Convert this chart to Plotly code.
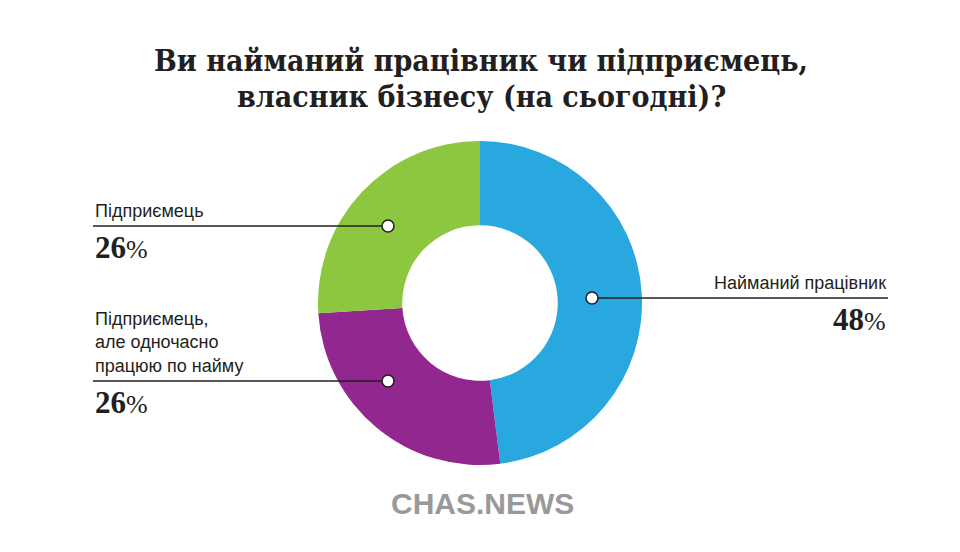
import plotly.graph_objects as go

categories = ["Найманий працівник", "Підприємець, але одночасно працюю по найму", "Підприємець"]
values = [48, 26, 26]
colors = ["#29A8E0", "#92278F", "#8DC63F"]
title_lines = ["Ви найманий працівник чи підприємець,", "власник бізнесу (на сьогодні)?"]

W, H = 960, 552
def px(x): return x / W
def py(y): return 1 - y / H

cx, cy, R = 480, 303, 162

fig = go.Figure(go.Pie(
    labels=categories, values=values, sort=False, direction="clockwise", rotation=0,
    hole=0.48, marker=dict(colors=colors, line=dict(width=0)),
    textinfo="none", hoverinfo="label+percent", showlegend=False,
    domain=dict(x=[px(cx - R), px(cx + R)], y=[py(cy + R), py(cy - R)]),
))

shapes = []
annotations = []

# title
for i, (line, yy) in enumerate(zip(title_lines, [60, 96])):
    annotations.append(dict(x=px(481), y=py(yy), xref="paper", yref="paper", xanchor="center", yanchor="middle",
                            text=line, showarrow=False, align="center",
                            font=dict(family="DejaVu Serif Condensed, DejaVu Serif", size=30, color="#231f20", weight="bold")))

label_font = dict(family="Liberation Sans, Arial", size=18, color="#231f20")
pct_font = dict(family="Liberation Serif, serif", size=31, color="#231f20")

# (line x0, x1, y, circle x, label text, label anchor, pct)
callouts = [
    (592, 888, 298, 592, categories[0], "right", values[0]),
    (93, 388, 381, 388, "Підприємець,<br>але одночасно<br>працюю по найму", "left", values[1]),
    (93, 388, 226, 388, categories[2], "left", values[2]),
]
for x0, x1, y, cxp, text, side, v in callouts:
    shapes.append(dict(type="line", xref="paper", yref="paper", x0=px(x0), x1=px(x1), y0=py(y), y1=py(y),
                       line=dict(color="#231f20", width=1.5)))
    r = 6
    shapes.append(dict(type="circle", xref="paper", yref="paper", x0=px(cxp - r), x1=px(cxp + r),
                       y0=py(y + r), y1=py(y - r), fillcolor="white", line=dict(color="#231f20", width=1.5)))
    tx = x1 if side == "right" else x0
    annotations.append(dict(x=px(tx), y=py(y - 3), xref="paper", yref="paper", xanchor=side, yanchor="bottom",
                            text=text, showarrow=False, align=side, font=label_font))
    annotations.append(dict(x=px(tx), y=py(y + 2), xref="paper", yref="paper", xanchor=side, yanchor="top",
                            text=f"<b>{v}</b><span style='font-size:26px'>%</span>", showarrow=False, align=side,
                            font=pct_font))

# logo
annotations.append(dict(x=px(482), y=py(503), xref="paper", yref="paper", xanchor="center", yanchor="middle",
                        text="<b>CHAS.NEWS</b>", showarrow=False,
                        font=dict(family="Liberation Sans Narrow, Liberation Sans", size=30, color="#999999")))

fig.update_layout(width=W, height=H, margin=dict(l=0, r=0, t=0, b=0), paper_bgcolor="white",
                  plot_bgcolor="white", shapes=shapes, annotations=annotations)
fig.write_html("out.html")
